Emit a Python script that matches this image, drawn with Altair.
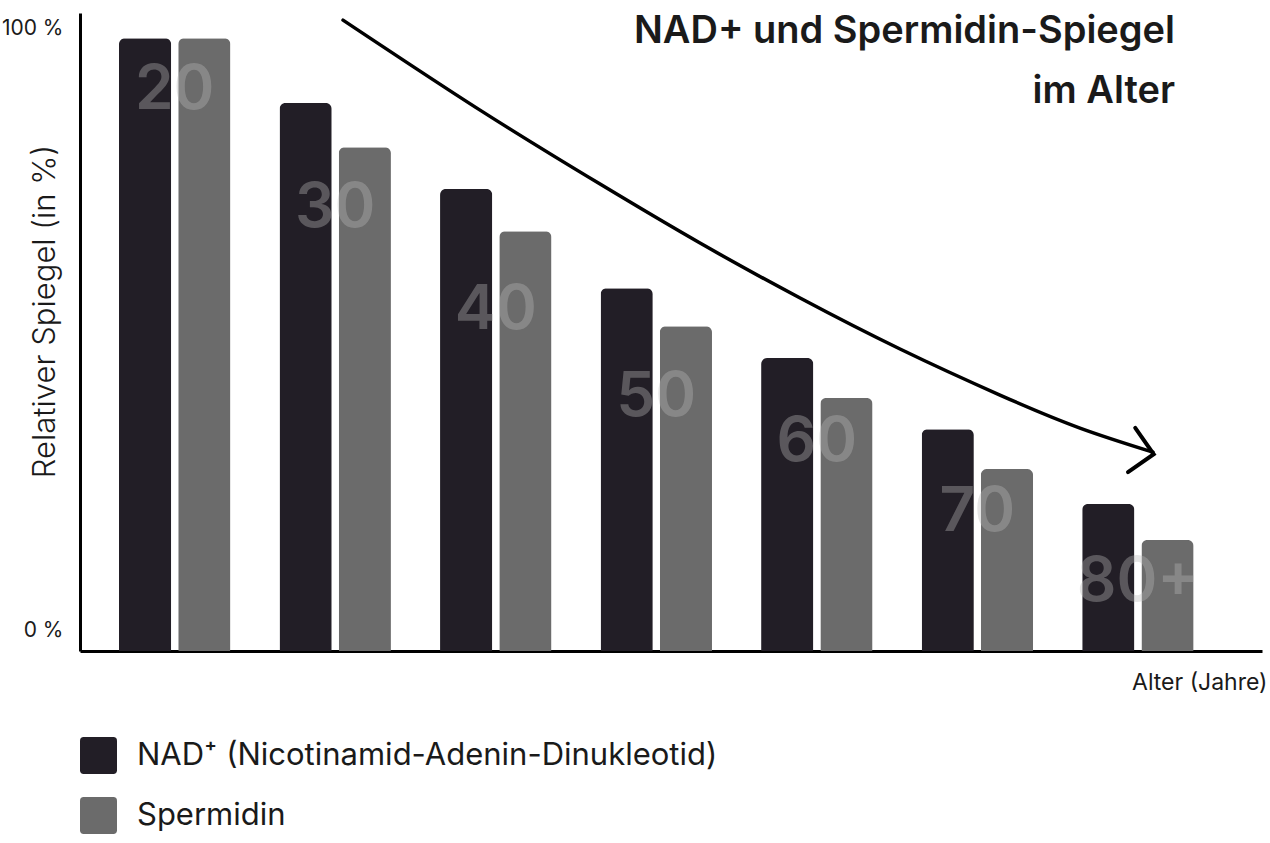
import altair as alt
import pandas as pd

# Age groups and relative levels (in % of the level at age 20)
ages = ["20", "30", "40", "50", "60", "70", "80+"]
nad_levels = [100, 89.4, 75.4, 59.2, 47.8, 36.2, 24.0]
spermidin_levels = [100, 82.2, 68.5, 53.0, 41.3, 29.7, 18.1]

# Height (in %) at which each large age number sits
age_label_levels = [91.5, 72.3, 55.6, 41.4, 34.1, 22.7, 11.3]

series_names = ["NAD\u207a (Nicotinamid-Adenin-Dinukleotid)", "Spermidin"]
series_colors = ["#221e26", "#6b6b6b"]

# y-axis tick labels and the levels they are written at
tick_labels = ["100 %", "0 %"]
tick_levels = [101.5, 3.4]

# Trend arrow, given in years of age and % level
arrow_age = [30.49, 39.02, 46.49, 52.71, 58.94, 65.16, 71.38, 76.36, 80.90]
arrow_level = [102.94, 88.25, 76.18, 66.56, 57.59, 49.27, 41.76, 36.38, 32.46]
head_age = [79.8, 80.95, 79.35]
head_level = [36.4, 32.1, 29.2]

FONT = "Inter"

bars_df = pd.DataFrame(
    [{"Alter": a, "Reihe": series_names[0], "Wert": v} for a, v in zip(ages, nad_levels)]
    + [{"Alter": a, "Reihe": series_names[1], "Wert": v} for a, v in zip(ages, spermidin_levels)]
)
labels_df = pd.DataFrame({"Alter": ages, "Stufe": age_label_levels})
arrow_df = pd.DataFrame({"Jahr": arrow_age, "Stufe": arrow_level, "i": range(len(arrow_age))})
head_df = pd.DataFrame({"Jahr": head_age, "Stufe": head_level, "i": range(len(head_age))})

y_scale = alt.Scale(domain=[0, 104.1], nice=False, zero=True)
x_band = alt.Scale(type="band", domain=ages, paddingInner=0.306, paddingOuter=0.3345, align=0.363)
x_years = alt.Scale(domain=[14.12, 87.69], nice=False, zero=False)

label_expr = " : ".join(
    f"datum.value == {lvl} ? '{txt}'" for txt, lvl in zip(tick_labels[:-1], tick_levels[:-1])
) + f" : '{tick_labels[-1]}'"

y_axis = alt.Axis(
    values=tick_levels,
    labelExpr=label_expr,
    ticks=False,
    grid=False,
    domainColor="black",
    domainWidth=3,
    labelFont=FONT,
    labelFontSize=21,
    labelColor="#1a1a1a",
    labelPadding=17,
    labelBaseline="middle",
    title="Relativer Spiegel (in %)",
    titleFont=FONT,
    titleFontSize=31,
    titleFontWeight=300,
    titleColor="#1a1a1a",
    titleAngle=270,
    titleX=-35,
    titleY=298,
    titleAlign="center",
    titleBaseline="middle",
)

x_axis = alt.Axis(
    orient="bottom",
    labels=False,
    ticks=False,
    grid=False,
    domainColor="black",
    domainWidth=3,
    title="Alter (Jahre)",
    titleFont=FONT,
    titleFontSize=23,
    titleFontWeight="normal",
    titleColor="#1a1a1a",
    titleX=1187,
    titleY=31,
    titleAlign="right",
    titleBaseline="middle",
)

rounded_square = (
    "M -0.8 -1 L 0.8 -1 Q 1 -1 1 -0.8 L 1 0.8 Q 1 1 0.8 1 "
    "L -0.8 1 Q -1 1 -1 0.8 L -1 -0.8 Q -1 -1 -0.8 -1 Z"
)

bars = alt.Chart(bars_df).mark_bar(cornerRadiusTopLeft=6, cornerRadiusTopRight=6).encode(
    x=alt.X("Alter:N", scale=x_band, axis=x_axis, sort=ages),
    xOffset=alt.XOffset("Reihe:N", scale=alt.Scale(domain=series_names, paddingInner=0.1186, paddingOuter=0)),
    y=alt.Y("Wert:Q", scale=y_scale, axis=y_axis),
    color=alt.Color(
        "Reihe:N",
        scale=alt.Scale(domain=series_names, range=series_colors),
        legend=alt.Legend(
            title=None,
            orient="none",
            legendX=0,
            legendY=724,
            direction="vertical",
            padding=0,
            symbolType=rounded_square,
            symbolSize=1369,
            symbolStrokeWidth=0,
            labelFont=FONT,
            labelFontSize=31,
            labelColor="#1a1a1a",
            labelOffset=20,
            rowPadding=23,
            labelLimit=900,
        ),
    ),
)

age_text = alt.Chart(labels_df).mark_text(
    font=FONT, fontSize=62, fontWeight=600, color="#b9b9b9", opacity=0.37,
    baseline="middle", align="center",
).encode(
    x=alt.X("Alter:N", scale=x_band, axis=None, sort=ages),
    y=alt.Y("Stufe:Q", scale=y_scale),
    text="Alter:N",
)

arrow = alt.Chart(arrow_df).mark_line(
    color="black", strokeWidth=3.5, interpolate="natural", strokeCap="round"
).encode(
    x=alt.X("Jahr:Q", scale=x_years, axis=None),
    y=alt.Y("Stufe:Q", scale=y_scale),
    order="i:O",
)

head = alt.Chart(head_df).mark_line(
    color="black", strokeWidth=4, strokeCap="round", strokeJoin="miter"
).encode(
    x=alt.X("Jahr:Q", scale=x_years, axis=None),
    y=alt.Y("Stufe:Q", scale=y_scale),
    order="i:O",
)

chart = (
    alt.layer(bars, age_text, arrow, head)
    .resolve_scale(x="independent")
    .properties(
        width=1182,
        height=638,
        autosize=alt.AutoSizeParams(type="none"),
        padding={"left": 80, "top": 13, "right": 8, "bottom": 192},
        background="white",
        title=alt.TitleParams(
            text=["NAD+ und Spermidin-Spiegel", "im Alter"],
            anchor="end",
            frame="group",
            orient="top",
            baseline="top",
            align="right",
            dx=-87,
            dy=6,
            offset=-92,
            font=FONT,
            fontSize=38,
            fontWeight=600,
            color="#1a1a1a",
            lineHeight=60,
        ),
    )
    .configure_view(stroke=None)
)

chart.save("out.html", embed_options={"renderer": "svg", "actions": False})
